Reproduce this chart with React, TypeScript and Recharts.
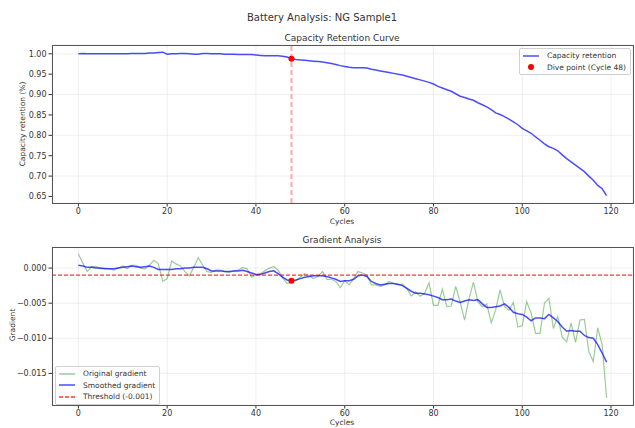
import React from 'react'
import {
  LineChart,
  Line,
  XAxis,
  YAxis,
  CartesianGrid,
  ReferenceLine,
  ReferenceDot,
} from 'recharts'

const FONT = '"DejaVu Sans", sans-serif'

// capacity retention per cycle (0..119)
const capacity = [
  1.000, 1.001, 1.000, 1.000, 1.000, 1.000, 1.000, 1.000, 1.000, 1.000,
  1.000, 1.000, 1.001, 1.001, 1.001, 1.001, 1.002, 1.002, 1.003, 1.004,
  0.999, 1.000, 1.000, 1.001, 1.001, 1.000, 0.999, 0.999, 1.001, 1.001,
  1.000, 1.000, 1.000, 0.999, 0.999, 0.999, 0.998, 0.998, 0.998, 0.998,
  0.997, 0.996, 0.995, 0.995, 0.995, 0.995, 0.994, 0.992, 0.988, 0.986,
  0.985, 0.984, 0.983, 0.982, 0.981, 0.980, 0.978, 0.976, 0.974, 0.971,
  0.969, 0.967, 0.966, 0.966, 0.966, 0.965, 0.962, 0.960, 0.958, 0.956,
  0.954, 0.952, 0.950, 0.948, 0.945, 0.942, 0.939, 0.936, 0.933, 0.930,
  0.926, 0.920, 0.916, 0.912, 0.908, 0.902, 0.896, 0.893, 0.889, 0.886,
  0.880, 0.875, 0.870, 0.863, 0.855, 0.851, 0.846, 0.840, 0.833, 0.826,
  0.817, 0.811, 0.805, 0.796, 0.788, 0.779, 0.772, 0.768, 0.762, 0.752,
  0.743, 0.735, 0.727, 0.719, 0.711, 0.700, 0.690, 0.677, 0.669, 0.652,
]

const originalGradient = [
  0.0020, 0.0007, -0.0005, 0.0002, 0.0002, -0.0001, 0.0000, -0.0001, -0.0003, 0.0000,
  0.0003, -0.0001, 0.0004, 0.0004, 0.0000, -0.0001, 0.0004, 0.0011, 0.0006, -0.0019,
  -0.0015, 0.0010, 0.0006, 0.0003, -0.0005, -0.0011, 0.0001, 0.0015, 0.0004, -0.0005,
  -0.0006, -0.0003, -0.0003, -0.0005, -0.0006, -0.0004, -0.0003, 0.0001, -0.0001, -0.0013,
  -0.0010, -0.0008, -0.0004, 0.0000, 0.0002, -0.0003, -0.0014, -0.0022, -0.0020, -0.0018,
  -0.0013, -0.0008, -0.0011, -0.0015, -0.0012, -0.0005, -0.0016, -0.0016, -0.0019, -0.0028,
  -0.0018, -0.0024, -0.0015, -0.0005, -0.0007, -0.0010, -0.0024, -0.0024, -0.0026, -0.0024,
  -0.0019, -0.0022, -0.0024, -0.0023, -0.0029, -0.0040, -0.0034, -0.0040, -0.0036, -0.0021,
  -0.0053, -0.0053, -0.0030, -0.0055, -0.0054, -0.0026, -0.0048, -0.0074, -0.0044, -0.0020,
  -0.0048, -0.0055, -0.0051, -0.0078, -0.0060, -0.0031, -0.0055, -0.0060, -0.0049, -0.0084,
  -0.0082, -0.0048, -0.0064, -0.0093, -0.0093, -0.0050, -0.0043, -0.0086, -0.0069, -0.0098,
  -0.0105, -0.0078, -0.0106, -0.0074, -0.0073, -0.0119, -0.0133, -0.0085, -0.0109, -0.0185,
]

const smoothedGradient = [
  0.0004, 0.0003, 0.0001, 0.0001, 0.0000, 0.0000, -0.0001, -0.0001, -0.0001, 0.0000,
  0.0001, 0.0002, 0.0003, 0.0002, 0.0001, 0.0002, 0.0003, 0.0001, -0.0002, -0.0002,
  -0.0002, -0.0002, -0.0001, -0.0001, 0.0000, 0.0000, 0.0001, 0.0001, 0.0001, -0.0001,
  -0.0004, -0.0004, -0.0004, -0.0005, -0.0005, -0.0004, -0.0004, -0.0003, -0.0005, -0.0007,
  -0.0009, -0.0009, -0.0007, -0.0005, -0.0004, -0.0008, -0.0013, -0.0017, -0.0018, -0.0017,
  -0.0015, -0.0013, -0.0012, -0.0011, -0.0011, -0.0011, -0.0012, -0.0014, -0.0016, -0.0019,
  -0.0018, -0.0018, -0.0016, -0.0011, -0.0010, -0.0012, -0.0019, -0.0022, -0.0024, -0.0023,
  -0.0022, -0.0022, -0.0023, -0.0025, -0.0029, -0.0033, -0.0036, -0.0036, -0.0037, -0.0038,
  -0.0040, -0.0042, -0.0045, -0.0045, -0.0044, -0.0047, -0.0049, -0.0047, -0.0045, -0.0046,
  -0.0045, -0.0051, -0.0056, -0.0056, -0.0055, -0.0054, -0.0051, -0.0056, -0.0063, -0.0065,
  -0.0066, -0.0070, -0.0075, -0.0071, -0.0071, -0.0072, -0.0066, -0.0071, -0.0076, -0.0084,
  -0.0090, -0.0089, -0.0090, -0.0090, -0.0096, -0.0099, -0.0100, -0.0109, -0.0121, -0.0134,
]

const xTicks = [0, 20, 40, 60, 80, 100, 120]
const capTicks = [0.65, 0.7, 0.75, 0.8, 0.85, 0.9, 0.95, 1.0]
const gradTicks = [-0.015, -0.01, -0.005, 0]
const DIVE_CYCLE = 48
const THRESHOLD = -0.001

const capData = capacity.map((v, i) => ({ cycle: i, capacity: v }))
const gradData = originalGradient.map((v, i) => ({
  cycle: i,
  original: v,
  smoothed: smoothedGradient[i],
}))

const tickStyle = { fontSize: 8, fill: '#333', fontFamily: FONT }
const gridColor = '#ebebeb'

const fmtGrad = (v: number) => {
  const s = Math.abs(v).toFixed(3)
  return v < -1e-9 ? '\u2212' + s : s
}

function Frame({ left, top, width, height }: any) {
  return (
    <div
      style={{
        position: 'absolute',
        left,
        top,
        width,
        height,
        border: '1px solid #555',
        boxSizing: 'border-box',
        pointerEvents: 'none',
      }}
    />
  )
}

function Text({ x, y, size, children, rotate }: any) {
  return (
    <div
      style={{
        position: 'absolute',
        left: x,
        top: y,
        fontSize: size,
        color: '#333',
        whiteSpace: 'nowrap',
        lineHeight: 1,
        transform: `translate(-50%, -50%)${rotate ? ` rotate(${rotate}deg)` : ''}`,
      }}
    >
      {children}
    </div>
  )
}

function LegendRow({ kind, color, label }: any) {
  return (
    <div style={{ display: 'flex', alignItems: 'center', height: 11.5, whiteSpace: 'nowrap' }}>
      <svg width={20} height={8} style={{ marginRight: 5, flexShrink: 0 }}>
        {kind === 'dot' ? (
          <circle cx={9} cy={4} r={3} fill={color} />
        ) : (
          <line
            x1={1}
            x2={17}
            y1={4}
            y2={4}
            stroke={color}
            strokeWidth={1.5}
            strokeDasharray={kind === 'dash' ? '4 2' : undefined}
          />
        )}
      </svg>
      <span style={{ fontSize: 7.5, color: '#333' }}>{label}</span>
    </div>
  )
}

export default function App() {
  return (
    <div
      style={{
        position: 'absolute',
        left: 0,
        top: 0,
        width: 635,
        height: 428,
        background: '#fff',
        fontFamily: FONT,
        overflow: 'hidden',
      }}
    >
      <Text x={322} y={18} size={10}>Battery Analysis: NG Sample1</Text>
      <Text x={342} y={38} size={9}>Capacity Retention Curve</Text>
      <Text x={342} y={240} size={9}>Gradient Analysis</Text>

      {/* Capacity Retention */}
      <div style={{ position: 'absolute', left: 0, top: 0 }}>
        <LineChart
          width={635}
          height={230}
          data={capData}
          margin={{ top: 45, right: 2, bottom: 7, left: 8 }}
        >
          <CartesianGrid stroke={gridColor} strokeWidth={0.8} />
          <XAxis
            dataKey="cycle"
            type="number"
            domain={[-5.95, 124.95]}
            ticks={xTicks}
            allowDataOverflow
            height={20}
            tick={tickStyle}
            tickSize={3.5}
            tickMargin={2}
            axisLine={false}
            tickLine={{ stroke: '#333' }}
          />
          <YAxis
            type="number"
            domain={[0.634, 1.0216]}
            ticks={capTicks}
            allowDataOverflow
            width={44}
            tick={tickStyle}
            tickSize={3.5}
            tickMargin={2}
            axisLine={false}
            tickLine={{ stroke: '#333' }}
            tickFormatter={(v) => v.toFixed(2)}
          />
          <ReferenceLine
            x={DIVE_CYCLE}
            stroke="#ffa8a8"
            strokeWidth={2}
            strokeDasharray="5 3"
          />
          <Line
            type="linear"
            dataKey="capacity"
            stroke="#0000ff"
            strokeOpacity={0.7}
            strokeWidth={1.5}
            dot={false}
            isAnimationActive={false}
          />
          <ReferenceDot
            x={DIVE_CYCLE}
            y={capacity[DIVE_CYCLE]}
            r={3}
            fill="#ff0000"
            stroke="none"
          />
        </LineChart>
      </div>
      <Frame left={52} top={45} width={582} height={159} />
      <Text x={342} y={222} size={7.5}>Cycles</Text>
      <Text x={23} y={124} size={7.5} rotate={-90}>Capacity retention (%)</Text>

      <div
        style={{
          position: 'absolute',
          right: 4,
          top: 48,
          padding: '1px 4px 1px 2px',
          border: '1px solid #d0d0d0',
          borderRadius: 2,
          background: 'rgba(255,255,255,0.8)',
        }}
      >
        <LegendRow kind="line" color="rgba(0,0,255,0.7)" label="Capacity retention" />
        <LegendRow kind="dot" color="#ff0000" label="Dive point (Cycle 48)" />
      </div>

      {/* Gradient Analysis */}
      <div style={{ position: 'absolute', left: 0, top: 228 }}>
        <LineChart
          width={635}
          height={200}
          data={gradData}
          margin={{ top: 19, right: 2, bottom: 3, left: 8 }}
        >
          <CartesianGrid stroke={gridColor} strokeWidth={0.8} />
          <XAxis
            dataKey="cycle"
            type="number"
            domain={[-5.95, 124.95]}
            ticks={xTicks}
            allowDataOverflow
            height={20}
            tick={tickStyle}
            tickSize={3.5}
            tickMargin={2}
            axisLine={false}
            tickLine={{ stroke: '#333' }}
          />
          <YAxis
            type="number"
            domain={[-0.0195, 0.003]}
            ticks={gradTicks}
            allowDataOverflow
            width={44}
            tick={tickStyle}
            tickSize={3.5}
            tickMargin={2}
            axisLine={false}
            tickLine={{ stroke: '#333' }}
            tickFormatter={fmtGrad}
          />
          <Line
            type="linear"
            dataKey="original"
            stroke="#008000"
            strokeOpacity={0.4}
            strokeWidth={1.2}
            dot={false}
            isAnimationActive={false}
          />
          <Line
            type="linear"
            dataKey="smoothed"
            stroke="#0000ff"
            strokeOpacity={0.7}
            strokeWidth={1.5}
            dot={false}
            isAnimationActive={false}
          />
          <ReferenceLine
            y={THRESHOLD}
            stroke="#ff0000"
            strokeOpacity={0.8}
            strokeDasharray="4 2"
            strokeWidth={1.3}
          />
          <ReferenceDot
            x={DIVE_CYCLE}
            y={smoothedGradient[DIVE_CYCLE]}
            r={3}
            fill="#ff0000"
            stroke="none"
          />
        </LineChart>
      </div>
      <Frame left={52} top={247} width={582} height={159} />
      <Text x={342} y={423} size={7.5}>Cycles</Text>
      <Text x={13} y={325} size={7.5} rotate={-90}>Gradient</Text>

      <div
        style={{
          position: 'absolute',
          left: 55,
          top: 366,
          padding: '1px 4px 1px 2px',
          border: '1px solid #d0d0d0',
          borderRadius: 2,
          background: 'rgba(255,255,255,0.8)',
        }}
      >
        <LegendRow kind="line" color="rgba(0,128,0,0.4)" label="Original gradient" />
        <LegendRow kind="line" color="rgba(0,0,255,0.7)" label="Smoothed gradient" />
        <LegendRow kind="dash" color="rgba(255,0,0,0.8)" label="Threshold (-0.001)" />
      </div>
    </div>
  )
}
